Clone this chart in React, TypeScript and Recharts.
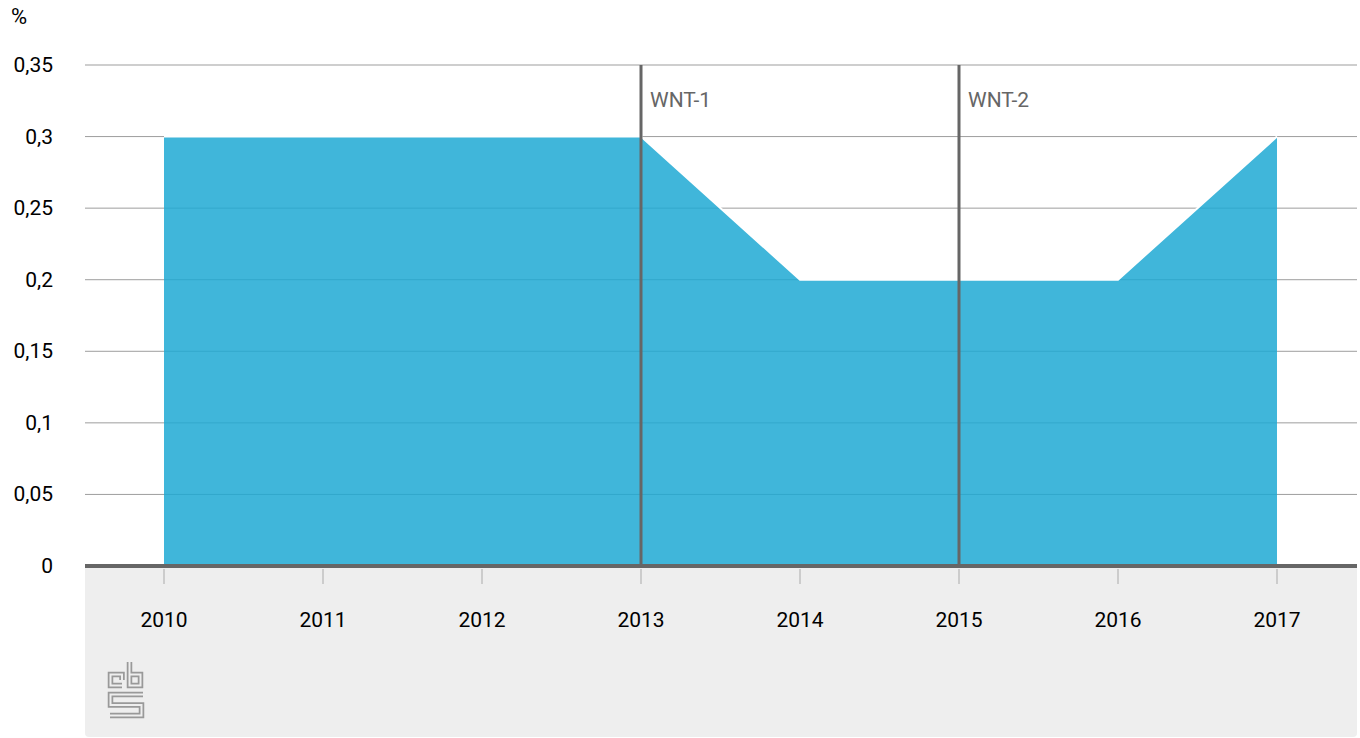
import React from 'react';
import {
  AreaChart,
  Area,
  XAxis,
  YAxis,
  CartesianGrid,
  ReferenceLine,
} from 'recharts';

const years = ['2010', '2011', '2012', '2013', '2014', '2015', '2016', '2017'];
const shareValues = [0.3, 0.3, 0.3, 0.3, 0.2, 0.2, 0.2, 0.3];
const yTicks = [0, 0.05, 0.1, 0.15, 0.2, 0.25, 0.3, 0.35];
const markers = [
  { year: '2013', label: 'WNT-1' },
  { year: '2015', label: 'WNT-2' },
];

const chartData = years.map((year, i) => ({ year, value: shareValues[i] }));

const FONT = 'Roboto, "DejaVu Sans", sans-serif';

const YTick = (props: any) => {
  const { y, payload } = props;
  return (
    <text
      x={53}
      y={y}
      textAnchor="end"
      dominantBaseline="central"
      fontFamily={FONT}
      fontSize={21}
      fill="#000"
    >
      {String(payload.value).replace('.', ',')}
    </text>
  );
};

const XTick = (props: any) => {
  const { x, y, payload } = props;
  return (
    <g>
      <line x1={x} x2={x} y1={y + 3} y2={y + 18} stroke="#cccccc" strokeWidth={2} />
      <text
        x={x}
        y={y + 54}
        textAnchor="middle"
        dominantBaseline="central"
        fontFamily={FONT}
        fontSize={21}
        fill="#000"
      >
        {payload.value}
      </text>
    </g>
  );
};

const MarkerLabel = (props: any) => {
  const { viewBox, value } = props;
  return (
    <text
      x={viewBox.x + 9}
      y={100}
      dominantBaseline="central"
      fontFamily={FONT}
      fontSize={21}
      fill="#666"
    >
      {value}
    </text>
  );
};

// cbs logo, drawn as a thick grey stroke with a thin light stroke on top
const logoPaths = [
  'M122 680 V674.5 H110.5 V685.5 H122',
  'M129.5 662 V685.5 H140.5 V674.5 H129.5',
  'M143 694.5 H110.5 V705 H141.5 V715.5 H110',
];

const App = () => {
  return (
    <div
      style={{
        position: 'absolute',
        left: 0,
        top: 0,
        width: 1360,
        height: 738,
        overflow: 'hidden',
        fontFamily: FONT,
      }}
    >
      {/* grey panel under the x axis */}
      <div
        style={{
          position: 'absolute',
          left: 85,
          top: 566,
          width: 1272,
          height: 171,
          background: '#eeeeee',
          borderRadius: '0 0 4px 4px',
        }}
      />
      <div style={{ position: 'absolute', left: 11, top: 4, fontSize: 22, color: '#000' }}>%</div>
      <svg
        width={1360}
        height={738}
        style={{ position: 'absolute', left: 0, top: 0, pointerEvents: 'none' }}
      >
        {logoPaths.map((d, i) => (
          <g key={i}>
            <path d={d} fill="none" stroke="#999999" strokeWidth={5.5} strokeLinejoin="miter" />
            <path d={d} fill="none" stroke="#eeeeee" strokeWidth={2} strokeLinejoin="miter" />
          </g>
        ))}
      </svg>
      <div style={{ position: 'absolute', left: 0, top: 0 }}>
        <AreaChart
          width={1360}
          height={738}
          data={chartData}
          margin={{ top: 65, right: 3, bottom: 112, left: 0 }}
        >
          <CartesianGrid vertical={false} stroke="#9d9d9d" strokeWidth={1} />
          <XAxis
            dataKey="year"
            height={60}
            padding={{ left: 79, right: 80 }}
            axisLine={{ stroke: '#666', strokeWidth: 4 }}
            tickLine={false}
            tickSize={0}
            tickMargin={0}
            tick={<XTick />}
            interval={0}
          />
          <YAxis
            width={85}
            domain={[0, 0.35]}
            ticks={yTicks}
            axisLine={false}
            tickLine={false}
            tick={<YTick />}
            interval={0}
          />
          <Area
            type="linear"
            dataKey="value"
            stroke="#ffffff"
            strokeWidth={2}
            fill="#1fa9d3"
            fillOpacity={0.85}
            isAnimationActive={false}
            dot={false}
            activeDot={false}
          />
          {markers.map((m) => (
            <ReferenceLine
              key={m.year}
              x={m.year}
              stroke="#666"
              strokeWidth={3}
              label={<MarkerLabel value={m.label} />}
            />
          ))}
        </AreaChart>
      </div>
    </div>
  );
};

export default App;
